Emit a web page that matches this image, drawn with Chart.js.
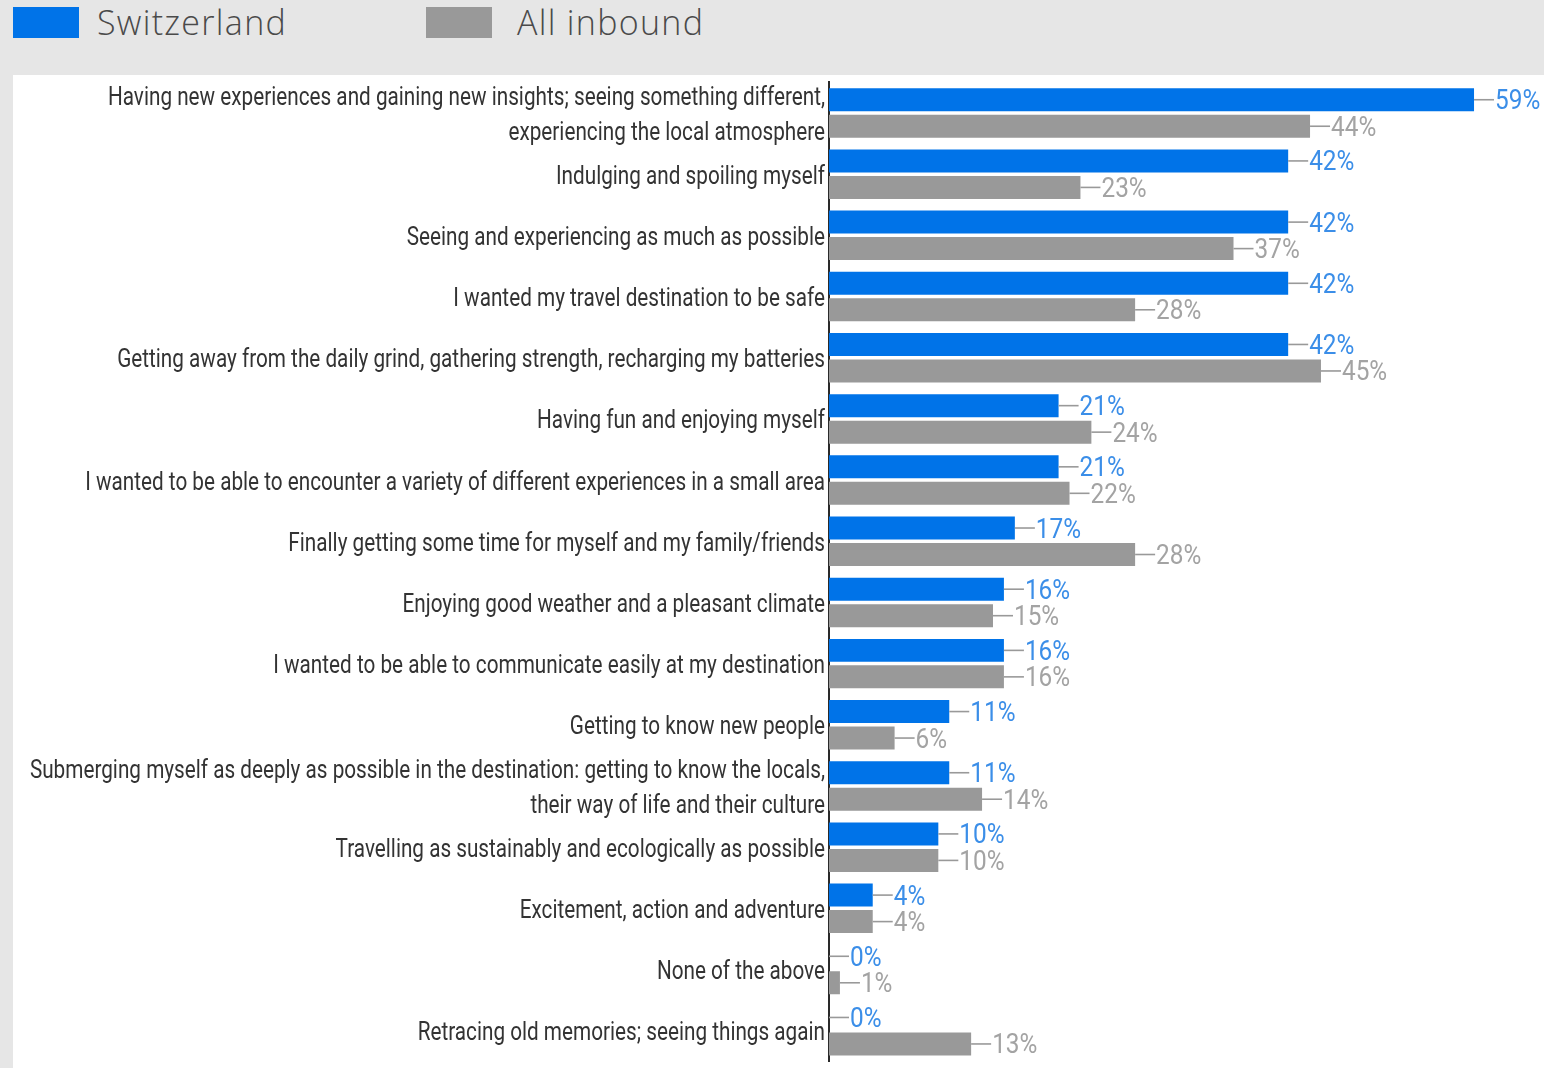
<!DOCTYPE html>
<html>
<head>
<meta charset="utf-8">
<script src="https://cdn.jsdelivr.net/npm/chart.js@4/dist/chart.umd.min.js"></script>
<style>
  html, body { margin: 0; padding: 0; }
  body { width: 1544px; height: 1068px; background: #e6e6e6; position: relative; overflow: hidden; font-family: "Open Sans", Lato, sans-serif; }
  .legend { position: absolute; top: 0; left: 0; width: 1544px; height: 75px; }
  .item { position: absolute; top: 7px; display: flex; align-items: center; white-space: nowrap; }
  .swatch { width: 66px; height: 31px; flex: none; }
  .item span { font-size: 34px; font-weight: 300; color: #4a4a4a; margin-left: 18px; line-height: 31px; letter-spacing: 1.3px; white-space: nowrap; }
  .panel { position: absolute; left: 13px; top: 75px; width: 1531px; height: 993px; background: #ffffff; }
  .panel canvas { position: absolute; left: 0; top: 0; }
</style>
</head>
<body>
<div class="legend">
  <div class="item" style="left:13px"><div class="swatch" style="background:#0073e8"></div><span>Switzerland</span></div>
  <div class="item" style="left:426px"><div class="swatch" style="background:#999999"></div><span style="margin-left:25px">All inbound</span></div>
</div>
<div class="panel"><canvas id="chart" width="1531" height="993"></canvas></div>
<script>
const categories = [
  ["Having new experiences and gaining new insights; seeing something different,", "experiencing the local atmosphere"],
  "Indulging and spoiling myself",
  "Seeing and experiencing as much as possible",
  "I wanted my travel destination to be safe",
  "Getting away from the daily grind, gathering strength, recharging my batteries",
  "Having fun and enjoying myself",
  "I wanted to be able to encounter a variety of different experiences in a small area",
  "Finally getting some time for myself and my family/friends",
  "Enjoying good weather and a pleasant climate",
  "I wanted to be able to communicate easily at my destination",
  "Getting to know new people",
  ["Submerging myself as deeply as possible in the destination: getting to know the locals,", "their way of life and their culture"],
  "Travelling as sustainably and ecologically as possible",
  "Excitement, action and adventure",
  "None of the above",
  "Retracing old memories; seeing things again"
];
const switzerland = [59, 42, 42, 42, 42, 21, 21, 17, 16, 16, 11, 11, 10, 4, 0, 0];
const allInbound = [44, 23, 37, 28, 45, 24, 22, 28, 15, 16, 6, 14, 10, 4, 1, 13];
const seriesNames = ["Switzerland", "All inbound"];

const BLUE = "#0073e8";
const GREY = "#999999";
const LABEL_COLORS = ["#3b8ee8", "#a3a3a3"];

// Condensed text: Roboto squeezed horizontally
function condensedText(ctx, text, x, y, sx, align) {
  ctx.save();
  ctx.translate(x, y);
  ctx.scale(sx, 1);
  ctx.textAlign = align;
  ctx.fillText(text, 0, 0);
  ctx.restore();
}

// Category labels to the left of the axis
const categoryLabels = {
  id: "categoryLabels",
  afterDraw(chart) {
    const { ctx, scales: { y }, chartArea } = chart;
    ctx.save();
    ctx.fillStyle = "#333333";
    ctx.font = "26px Roboto";
    ctx.textBaseline = "middle";
    const x = chartArea.left - 4;
    categories.forEach((label, i) => {
      const cy = y.getPixelForValue(i) + 3;
      const lines = Array.isArray(label) ? label : [label];
      const lh = 34.5;
      lines.forEach((line, k) => {
        const ly = cy + (k - (lines.length - 1) / 2) * lh;
        condensedText(ctx, line, x, ly, 0.797, "right");
      });
    });
    ctx.restore();
  }
};

// Value labels with short leader lines
const valueLabels = {
  id: "valueLabels",
  afterDatasetsDraw(chart) {
    const { ctx } = chart;
    ctx.save();
    ctx.font = "28px Roboto";
    ctx.textBaseline = "middle";
    chart.data.datasets.forEach((ds, di) => {
      const meta = chart.getDatasetMeta(di);
      meta.data.forEach((bar, i) => {
        const xEnd = bar.x;
        const yc = bar.y;
        ctx.strokeStyle = "#999999";
        ctx.lineWidth = 1.6;
        ctx.beginPath();
        ctx.moveTo(xEnd, yc);
        ctx.lineTo(xEnd + 20, yc);
        ctx.stroke();
        ctx.fillStyle = LABEL_COLORS[di];
        condensedText(ctx, ds.data[i] + "%", xEnd + 21, yc + 2.5, 0.87, "left");
      });
    });
    ctx.restore();
  }
};

new Chart(document.getElementById("chart"), {
  type: "bar",
  data: {
    labels: categories,
    datasets: [
      { label: seriesNames[0], data: switzerland, backgroundColor: BLUE, barPercentage: 0.868, categoryPercentage: 0.866 },
      { label: seriesNames[1], data: allInbound, backgroundColor: GREY, barPercentage: 0.868, categoryPercentage: 0.866 }
    ]
  },
  options: {
    indexAxis: "y",
    responsive: false,
    animation: false,
    events: [],
    layout: { padding: { left: 816, top: 7.4, bottom: 6.7, right: 0 } },
    plugins: { legend: { display: false }, tooltip: { enabled: false } },
    scales: {
      x: {
        min: 0, max: 65.4,
        display: false,
        grid: { display: false }
      },
      y: {
        ticks: { display: false },
        grid: { display: false, drawTicks: false },
        border: { display: true, color: "#2a2a2a", width: 2 }
      }
    }
  },
  plugins: [categoryLabels, valueLabels]
});
</script>
</body>
</html>
